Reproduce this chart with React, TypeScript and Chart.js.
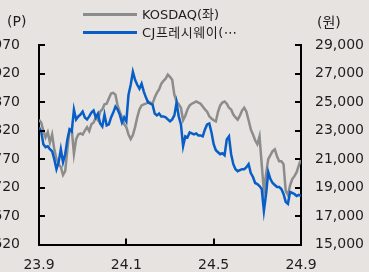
import React, { useEffect, useRef } from 'react';
import { Chart, registerables } from 'chart.js';

Chart.register(...registerables);

const xTickLabels = ['23.9', '24.1', '24.5', '24.9'];
const seriesNames = ['KOSDAQ(좌)', 'CJ프레시웨이(⋯'];
const leftUnit = '(P)';
const rightUnit = '(원)';

// KOSDAQ index (left axis), sampled evenly from 23.9 to 24.9
const kosdaq = [
  839, 834, 820, 808, 817, 799, 813, 787, 770, 761,
  756, 742, 749, 787, 822, 822, 779, 805, 813, 815,
  813, 820, 826, 819, 831, 834, 843, 838, 853, 857,
  866, 867, 876, 885, 886, 883, 864, 853, 843, 831,
  826, 813, 805, 812, 826, 843, 857, 864, 866, 867,
  871, 869, 867, 878, 886, 892, 902, 907, 911, 918,
  914, 909, 883, 871, 866, 860, 838, 846, 857, 864,
  867, 869, 871, 869, 867, 862, 857, 853, 845, 841,
  838, 836, 853, 864, 869, 871, 867, 860, 857, 848,
  843, 839, 846, 855, 860, 853, 838, 822, 813, 803,
  796, 810, 761, 714, 744, 770, 777, 784, 787, 775,
  766, 766, 761, 714, 707, 724, 735, 740, 747, 759,
  770,
];

// CJ Freshway share price in KRW (right axis)
const cjFreshway = [
  23220, 22940, 22040, 21830, 21900, 21690, 21550, 20990, 20290, 20780,
  21690, 20780, 21340, 22380, 23080, 22940, 24470, 23780, 23990, 24120,
  24330, 23920, 23780, 23990, 24260, 24400, 23920, 24190, 23500, 23290,
  24120, 23360, 23430, 23920, 24260, 24680, 24470, 24120, 23570, 23920,
  23640, 25520, 26210, 27120, 26560, 26210, 25940, 26280, 25730, 25310,
  24960, 24890, 24820, 24190, 24060, 24190, 23990, 23990, 23920, 23780,
  23640, 23780, 24060, 24960, 23990, 23430, 21900, 22590, 22520, 22870,
  22800, 22730, 22800, 22660, 22660, 22590, 23080, 23430, 23500, 22870,
  22040, 21620, 21480, 21340, 21410, 21270, 22380, 22590, 21340, 20640,
  20290, 20150, 20220, 20290, 20290, 20430, 20640, 20020, 19740, 19320,
  19250, 19110, 18900, 17370, 18550, 20090, 19600, 19320, 19180, 19040,
  19040, 18900, 18550, 18000, 17860, 18690, 18620, 18550, 18410, 18480,
  18410,
];

const BG = '#e6e3e1';
const GRAY = 'rgb(140,140,140)';
const BLUE = 'rgb(8,94,198)';
const TEXT = '#1e1e1e';
const FONT = "'DejaVu Sans', 'Noto Sans CJK KR', sans-serif";

const innerTicks = {
  id: 'innerTicks',
  afterDraw(chart: any) {
    const ctx = chart.ctx;
    const { left, right, bottom } = chart.chartArea;
    const len = 6;
    ctx.save();
    ctx.strokeStyle = '#000';
    ctx.lineWidth = 2;
    const yl = chart.scales.y;
    yl.ticks.forEach((_t: any, i: number) => {
      const p = Math.round(yl.getPixelForTick(i));
      ctx.beginPath();
      ctx.moveTo(left, p);
      ctx.lineTo(left + len, p);
      ctx.stroke();
    });
    const yr = chart.scales.y1;
    yr.ticks.forEach((_t: any, i: number) => {
      const p = Math.round(yr.getPixelForTick(i));
      ctx.beginPath();
      ctx.moveTo(right, p);
      ctx.lineTo(right - len, p);
      ctx.stroke();
    });
    const xs = chart.scales.x;
    xs.ticks.forEach((_t: any, i: number) => {
      const p = Math.round(xs.getPixelForTick(i));
      ctx.beginPath();
      ctx.moveTo(p, bottom);
      ctx.lineTo(p, bottom - len);
      ctx.stroke();
    });
    ctx.restore();
  },
};

export default function App() {
  const ref = useRef<HTMLCanvasElement>(null);

  useEffect(() => {
    document.body.style.margin = '0';
    document.body.style.background = BG;
    const tickFont = { family: FONT, size: 14 };
    const step = (kosdaq.length - 1) / (xTickLabels.length - 1);
    const chart = new Chart(ref.current as HTMLCanvasElement, {
      type: 'line',
      data: {
        datasets: [
          {
            label: seriesNames[0],
            data: kosdaq.map((v, i) => ({ x: i, y: v })),
            yAxisID: 'y',
            borderColor: GRAY,
            backgroundColor: GRAY,
            borderWidth: 2.5,
            pointRadius: 0,
            tension: 0,
            order: 1,
          },
          {
            label: seriesNames[1],
            data: cjFreshway.map((v, i) => ({ x: i, y: v })),
            yAxisID: 'y1',
            borderColor: BLUE,
            backgroundColor: BLUE,
            borderWidth: 2.5,
            pointRadius: 0,
            tension: 0,
            order: 0,
          },
        ],
      },
      options: {
        responsive: false,
        animation: false,
        devicePixelRatio: 1,
        layout: { padding: { top: 45, left: 0, right: 0, bottom: 0 } },
        plugins: {
          legend: { display: false },
          tooltip: { enabled: false },
        },
        scales: {
          x: {
            type: 'linear',
            min: 0,
            max: kosdaq.length - 1,
            ticks: {
              stepSize: step,
              autoSkip: false,
              maxRotation: 0,
              padding: 12,
              color: TEXT,
              font: tickFont,
              callback: (v: any) => xTickLabels[Math.round(Number(v) / step)] ?? '',
            },
            grid: { display: false, drawTicks: false },
            border: { display: true, color: '#000', width: 2 },
            afterFit: (s: any) => {
              s.height = 26;
            },
          },
          y: {
            position: 'left',
            min: 620,
            max: 970,
            ticks: { stepSize: 50, padding: 19, color: TEXT, font: tickFont },
            grid: { display: false, drawTicks: false },
            border: { display: true, color: '#000', width: 2 },
            afterFit: (s: any) => {
              s.width = 39;
            },
          },
          y1: {
            position: 'right',
            min: 15000,
            max: 29000,
            ticks: {
              stepSize: 2000,
              padding: 14,
              color: TEXT,
              font: tickFont,
              callback: (v: any) => Number(v).toLocaleString('en-US'),
            },
            grid: { display: false, drawTicks: false },
            border: { display: true, color: '#000', width: 2 },
            afterFit: (s: any) => {
              s.width = 68;
            },
          },
        },
      } as any,
      plugins: [innerTicks],
    });
    return () => chart.destroy();
  }, []);

  const textStyle: React.CSSProperties = {
    position: 'absolute',
    fontFamily: FONT,
    color: TEXT,
    whiteSpace: 'nowrap',
    lineHeight: '14px',
  };

  return (
    <div style={{ position: 'relative', width: 369, height: 272, background: BG, overflow: 'hidden' }}>
      <canvas ref={ref} width={369} height={272} style={{ display: 'block', width: 369, height: 272 }} />
      <div style={{ ...textStyle, left: 7, top: 14, fontSize: 14 }}>{leftUnit}</div>
      <div style={{ ...textStyle, left: 317, top: 15, fontSize: 14 }}>{rightUnit}</div>
      <div style={{ position: 'absolute', left: 83, top: 13, width: 54, height: 3, background: GRAY }} />
      <div style={{ ...textStyle, left: 142, top: 8, fontSize: 13 }}>{seriesNames[0]}</div>
      <div style={{ position: 'absolute', left: 83, top: 31, width: 54, height: 3, background: BLUE }} />
      <div style={{ ...textStyle, left: 142, top: 26, fontSize: 13, letterSpacing: '0.5px' }}>{seriesNames[1]}</div>
    </div>
  );
}
